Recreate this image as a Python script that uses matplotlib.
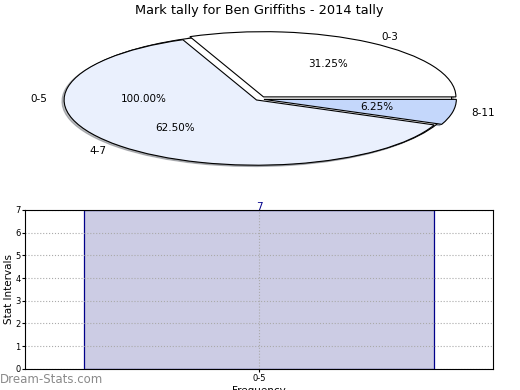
import matplotlib
matplotlib.use("Agg")
import matplotlib.pyplot as plt

title = "Mark tally for Ben Griffiths - 2014 tally"
outer_labels = ["0-5"]
outer_values = [1]
inner_labels = ["0-3", "4-7", "8-11"]
inner_values = [5, 10, 1]
inner_colors = ["#ffffff", "#eaf0fd", "#c4d7fb"]
inner_explode = [0.04, 0.02, 0.025]

bar_categories = ["0-5"]
bar_values = [7]

fig = plt.figure(figsize=(5.2, 3.9), dpi=100)

shadow = dict(ox=-0.008, oy=-0.015, shade=0.5)

# Pie chart
ax1 = fig.add_axes([0.036, 0.537, 0.925, 0.418])
ax1.pie(outer_values, labels=outer_labels, colors=["#ffffff"], shadow=shadow,
        autopct="%1.2f%%", startangle=0,
        wedgeprops=dict(edgecolor="black", linewidth=0.8),
        textprops=dict(fontsize=7.5))
ax1.pie(inner_values, labels=inner_labels, colors=inner_colors, shadow=shadow,
        explode=inner_explode, autopct="%1.2f%%", startangle=0,
        wedgeprops=dict(edgecolor="black", linewidth=0.8),
        textprops=dict(fontsize=7.5))
ax1.set_aspect("auto")
ax1.set_xlim(-1.25, 1.25)
ax1.set_ylim(-1.25, 1.25)
fig.text(0.498, 0.974, title, fontsize=9.3, ha="center", va="center")

# Bar chart
ax2 = fig.add_axes([0.048, 0.054, 0.9, 0.408])
x = list(range(len(bar_categories)))
bars = ax2.bar(x, bar_values, width=0.8, color="#ccccE4", edgecolor="#00008b", linewidth=0.9)
for xi, v in zip(x, bar_values):
    ax2.annotate(str(v), (xi, v), xytext=(0, 2), textcoords="offset points",
                 ha="center", va="center", color="#00008b", fontsize=7.5)
ax2.set_xlim(-0.535, 0.535)
ax2.set_ylim(0, 7)
ax2.set_xticks(x)
ax2.set_xticklabels(bar_categories, fontsize=6)
ax2.set_yticks(range(0, 8))
ax2.tick_params(axis="y", labelsize=6, length=2, pad=1)
ax2.tick_params(axis="x", length=2, pad=2)
ax2.grid(True, linestyle=":", color="#aaaaaa", linewidth=0.8)
ax2.set_axisbelow(False)
for sp in ax2.spines.values():
    sp.set_zorder(5)
ax2.set_ylabel("Stat Intervals", fontsize=7.5, labelpad=1)
ax2.set_xlabel("Frequency", fontsize=7.5, labelpad=2)

fig.text(0.0, 0.01, "Dream-Stats.com", fontsize=8.5, color="#8a8a8a", ha="left", va="bottom")

fig.savefig("out.png", dpi=100)
